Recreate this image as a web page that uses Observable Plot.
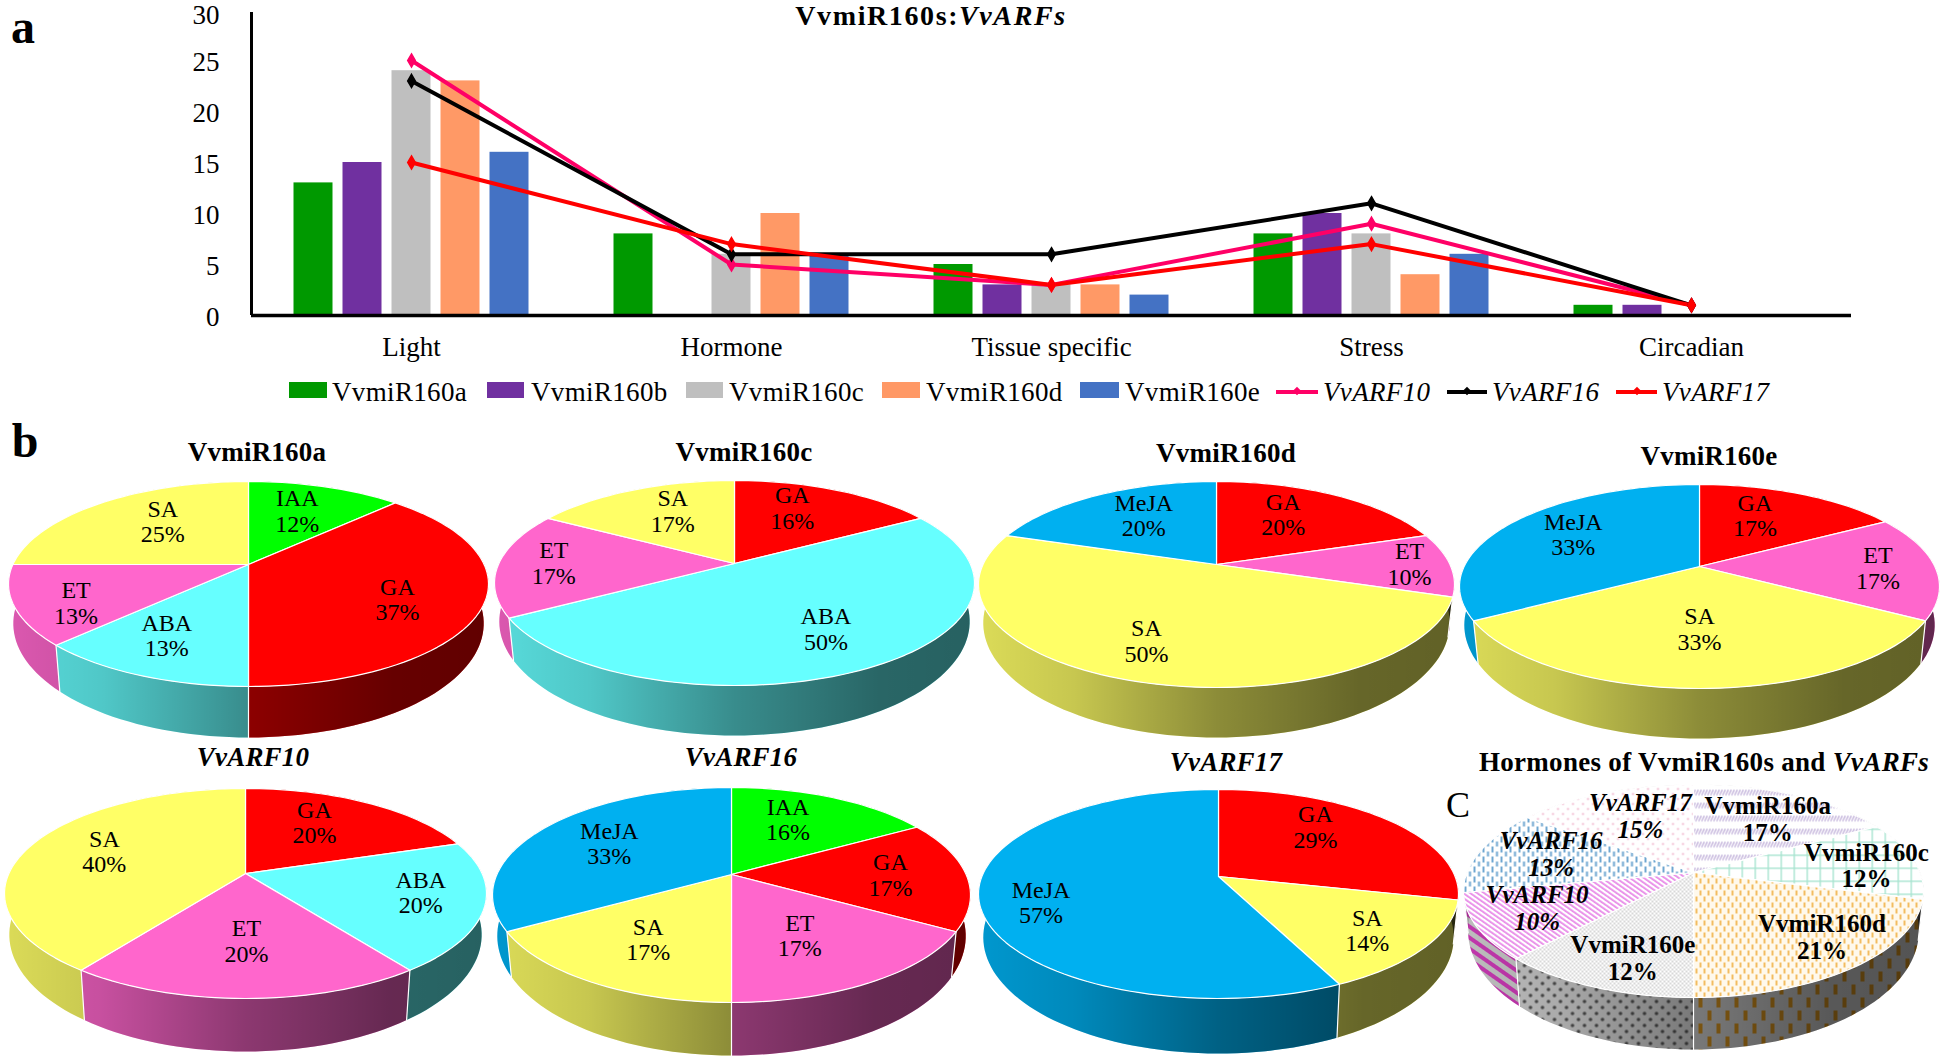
<!DOCTYPE html>
<html><head><meta charset="utf-8">
<script src="https://cdn.jsdelivr.net/npm/d3@7"></script>
<script src="https://cdn.jsdelivr.net/npm/@observablehq/plot@0.6"></script>
<style>
html,body{margin:0;padding:0;background:#fff}
#page{position:relative;width:1946px;height:1058px;overflow:hidden;font-family:"Liberation Serif",serif;color:#000}
#page svg{position:absolute;max-width:none;background:transparent;overflow:visible}
.t{position:absolute;transform:translate(-50%,-50%);white-space:nowrap;font-weight:bold;font-size:27px;line-height:1}
.lg{position:absolute;top:392px;transform:translateY(-50%);font-size:27px;white-space:nowrap;line-height:1;letter-spacing:.35px}
.sw{position:absolute;top:382px;height:16px}
.ln{position:absolute;top:390px;height:4px}
.dm{position:absolute;top:388px;width:6px;height:6px;transform:rotate(45deg)}
</style></head><body><div id="page"></div>
<script>
// ---------- panel a data ----------
const categories = ["Light","Hormone","Tissue specific","Stress","Circadian"];
const barSeries = ["VvmiR160a","VvmiR160b","VvmiR160c","VvmiR160d","VvmiR160e"];
const barColors = ["#009900","#7030a0","#bfbfbf","#ff9966","#4472c4"];
const VvmiR160a = [13,8,5,8,1];
const VvmiR160b = [15,0,3,10,1];
const VvmiR160c = [24,6,3,8,0];
const VvmiR160d = [23,10,3,4,0];
const VvmiR160e = [16,6,2,6,0];
const lineSeries = ["VvARF10","VvARF16","VvARF17"];
const lineColors = ["#ff0066","#000000","#ff0000"];
const VvARF10 = [25,5,3,9,1];
const VvARF16 = [23,6,6,11,1];
const VvARF17 = [15,7,3,7,1];
const yTicks = [0,5,10,15,20,25];
const yTopTick = [30];

// ---------- panel b / C data: slice names, slice sizes, printed percentages ----------
const hormoneColors = {GA:"#ff0000",IAA:"#00ff00",ABA:"#66ffff",ET:"#ff66cc",SA:"#ffff66",MeJA:"#00b0f0"};
const pieANames=["IAA","GA","ABA","ET","SA"],   pieAValues=[1,3,1,1,2],   pieAPercents=[12,37,13,13,25];
const pieCNames=["GA","ABA","ET","SA"],         pieCValues=[1,3,1,1],     pieCPercents=[16,50,17,17];
const pieDNames=["GA","ET","SA","MeJA"],        pieDValues=[2,1,5,2],     pieDPercents=[20,10,50,20];
const pieENames=["GA","ET","SA","MeJA"],        pieEValues=[1,1,2,2],     pieEPercents=[17,17,33,33];
const pie10Names=["GA","ABA","ET","SA"],        pie10Values=[1,1,1,2],    pie10Percents=[20,20,20,40];
const pie16Names=["IAA","GA","ET","SA","MeJA"], pie16Values=[1,1,1,1,2],  pie16Percents=[16,17,17,17,33];
const pie17Names=["GA","SA","MeJA"],            pie17Values=[2,1,4],      pie17Percents=[29,14,57];
const pieAllNames=["VvmiR160a","VvmiR160c","VvmiR160d","VvmiR160e","VvARF10","VvARF16","VvARF17"];
const pieAllValues=[17,12,21,12,10,13,15],      pieAllPercents=[17,12,21,12,10,13,15];

// ---------- layout: pie frames in page pixels; label radius along each slice's mid-angle, with a small nudge ----------
const frames = [
 {names:pieANames,values:pieAValues,pct:pieAPercents,ax:248,ay:564,top:481,bot:686,rx:240,wall:737,lab:[.65,.63,.72,.76,.59],
  nudge:[[-1,-3],[1,9],[-3,-9],[6,7],[1,-7]]},
 {names:pieCNames,values:pieCValues,pct:pieCPercents,ax:734,ay:563,top:480,bot:685,rx:240,wall:735,lab:[.68,.62,.72,.62],
  nudge:[[-11,-6],[4,2],[-11,-1],[1,-7]]},
 {names:pieDNames,values:pieDValues,pct:pieDPercents,ax:1216,ay:564,top:481,bot:687,rx:238,wall:737,lab:[.68,.72,.6,.68],
  nudge:[[-14,-3],[25,-1],[-17,7],[8,-2]]},
 {names:pieENames,values:pieEValues,pct:pieEPercents,ax:1699,ay:566,top:484,bot:688,rx:240,wall:738,lab:[.68,.72,.6,.68],
  nudge:[[-13,-2],[9,1],[0,-11],[0,-2]]},
 {names:pie10Names,values:pie10Values,pct:pie10Percents,ax:245,ay:873,top:788,bot:998,rx:241,wall:1051,lab:[.68,.75,.6,.65],
  nudge:[[-13,-3],[-4,-6],[1,-8],[-3,-3]]},
 {names:pie16Names,values:pie16Values,pct:pie16Percents,ax:731,ay:874,top:787,bot:1002,rx:239,wall:1055,lab:[.68,.72,.65,.65,.68],
  nudge:[[-12,-3],[-10,0],[-23,-9],[8,-5],[4,1]]},
 {names:pie17Names,values:pie17Values,pct:pie17Percents,ax:1218,ay:876,top:789,bot:998,rx:240,wall:1053,lab:[.68,.72,.72],
  nudge:[[-17,-11],[0,3],[-5,9]]},
 {names:pieAllNames,values:pieAllValues,pct:pieAllPercents,ax:1693,ay:872,top:784,bot:997,rx:230,wall:1049,lab:[.72,.8,.68,.62,.68,.72,.72],patterned:true,
  nudge:[[2,2],[-3,3],[19,0],[1,14],[-9,-2],[11,-3],[11,1]]}
];
const titles = [
 ["VvmiR160s:<i>VvARFs</i>",931,16,28,1.6],
 ["VvmiR160a",257,452,27,.2],["VvmiR160c",744,452,27,.2],["VvmiR160d",1226,453,27,.2],["VvmiR160e",1709,456,27,.2],
 ["<i>VvARF10</i>",253,757,27,.2],["<i>VvARF16</i>",741,757,27,.2],["<i>VvARF17</i>",1226,762,27,.2],
 ["Hormones of VvmiR160s and <i>VvARFs</i>",1704,762,27,.3]
];
const legendBars = [[289,38,332],[487,37,531],[686,37,729],[882,38,926],[1080,39,1125]];
const legendLines = [[1276,42,1323],[1447,40,1492],[1616,41,1662]];

const page = document.getElementById("page");
const FONT = '"Liberation Serif",serif';

// ---------- panel a ----------
const barRows = [VvmiR160a,VvmiR160b,VvmiR160c,VvmiR160d,VvmiR160e].flatMap((vals,s)=>vals.map((v,i)=>({i,s,v})));
const lineRows = [VvARF10,VvARF16,VvARF17].flatMap((vals,s)=>vals.map((v,i)=>({i,s,v})));
const barStep = 49/320, barW = 39/320;
const topChart = Plot.plot({
  width:1946,height:375,marginLeft:251,marginRight:95,marginTop:9,marginBottom:60,
  x:{domain:[-.5,4.5],axis:null},y:{domain:[0,30],axis:null},
  style:{fontFamily:FONT,background:"transparent",color:"#000",left:"0px",top:"0px"},
  marks:[
    Plot.rectY(barRows,{x1:d=>d.i+(d.s-2)*barStep-barW/2,x2:d=>d.i+(d.s-2)*barStep+barW/2,y1:0,y2:"v",fill:d=>barColors[d.s]}),
    Plot.ruleX([-.5],{y1:0,y2:29.7,stroke:"#000",strokeWidth:3}),
    Plot.ruleY([0],{stroke:"#000",strokeWidth:3.5}),
    Plot.line(lineRows,{x:"i",y:"v",z:"s",stroke:d=>lineColors[d.s],strokeWidth:4,strokeLinejoin:"round"}),
    Plot.dot(lineRows,{x:"i",y:"v",symbol:"diamond",r:4,fill:d=>lineColors[d.s],stroke:d=>lineColors[d.s]}),
    Plot.axisX({ticks:[0,1,2,3,4],tickFormat:i=>categories[i],tickSize:0,tickPadding:21,fontSize:27,anchor:"bottom",label:null}),
    Plot.axisY({ticks:yTicks,tickSize:0,tickPadding:32,fontSize:27,anchor:"left",label:null,dy:2}),
    Plot.text(yTopTick,{x:()=>-.5,y:d=>d,text:d=>String(d),dx:-32,dy:6,textAnchor:"end",fontSize:27})
  ],
  color:{type:"identity"}
});
page.appendChild(topChart);

// ---------- pies ----------
const STEP = Math.PI/90;
function arc(t1,t2,fn){const n=Math.max(1,Math.ceil((t2-t1)/STEP));return d3.range(n+1).map(k=>fn(t1+(t2-t1)*k/n));}

frames.forEach((f,idx)=>{
  const T=f.ay-f.top,B=f.bot-f.ay,c=(B-T)/(B+T),a=T*(1+c),R=f.rx*Math.sqrt(1-c*c);
  const sx=.98,sy=1.112,dy=f.wall-f.ay-sy*B;
  const P=(t,k=1)=>{const u=Math.sin(t),v=Math.cos(t),d=1+c*v;return {x:k*R*u/d,y:-k*a*v/d};};
  const Q=t=>{const p=P(t);return {x:sx*p.x,y:sy*p.y+dy};};
  const total=d3.sum(f.values);
  let acc=0;
  const slices=f.values.map((v,i)=>{const t1=acc/total*2*Math.PI;acc+=v;const t2=acc/total*2*Math.PI;return {i,t1,t2,pct:f.pct[i],name:f.names[i]};});
  const patId=n=>`pat${idx}-${n.replace(/\W/g,"")}`;
  const fillTop=d=>f.patterned?`url(#${patId(d.name)})`:hormoneColors[d.name];
  const fillWall=d=>f.patterned?`url(#${patId(d.name)}w)`:hormoneColors[d.name];

  // top faces
  const topRows=slices.flatMap(d=>{
    const pts=[{x:0,y:0},...arc(d.t1,d.t2,t=>P(t)),{x:0,y:0}];
    return pts.map(p=>({...p,id:d.i,fill:fillTop(d)}));
  });
  // walls, cut at the left and right extremes and painted far part first
  const cuts=[Math.PI/2,3*Math.PI/2];
  const pieces=slices.flatMap(d=>{
    const bounds=[d.t1,...cuts.filter(x=>x>d.t1&&x<d.t2),d.t2];
    return d3.pairs(bounds).map(([a1,a2])=>({...d,a1,a2,mid:Math.cos((a1+a2)/2)}));
  }).sort((p,q)=>q.mid-p.mid);
  const wallRows=pieces.flatMap((d,w)=>{
    const up=arc(d.a1,d.a2,t=>P(t));
    const dn=arc(d.a1,d.a2,t=>Q(t)).reverse();
    return [...up,...dn,up[0]].map(p=>({...p,id:w,fill:fillWall(d)}));
  });
  const sepRows=slices.filter(d=>Math.cos(d.t1)<0.02).flatMap(d=>[P(d.t1),Q(d.t1)].map(p=>({...p,id:d.i})));

  // labels
  const labRows=slices.map(d=>{
    const mid=(d.t1+d.t2)/2,p=P(mid,f.lab[d.i]),[nx,ny]=f.nudge[d.i];
    return {x:p.x+nx,y:p.y+ny,text:`${d.name}\n${d.pct}%`,ital:d.name.startsWith("VvARF")};
  });

  const pad=8,W=2*f.rx+2*pad,H=f.wall-f.top+2*pad;
  const defs=(index,{x})=>{
    const g=d3.create("svg:defs");
    const lg=g.append("linearGradient").attr("id",`shade${idx}`).attr("gradientUnits","userSpaceOnUse")
      .attr("x1",x(-f.rx)).attr("x2",x(f.rx)).attr("y1",0).attr("y2",0);
    [[0,.14],[.2,.22],[.5,.45],[.8,.6],[1,.62]].forEach(([o,a])=>lg.append("stop").attr("offset",o).attr("stop-color","#000").attr("stop-opacity",a));
    if(f.patterned){
      const pat=(id,w,h,bg,draw,rot)=>{
        const p=g.append("pattern").attr("id",id).attr("patternUnits","userSpaceOnUse").attr("width",w).attr("height",h);
        if(rot)p.attr("patternTransform",`rotate(${rot})`);
        p.append("rect").attr("width",w).attr("height",h).attr("fill",bg);
        draw(p);
      };
      const rect=(p,x,y,w,h,col)=>p.append("rect").attr("x",x).attr("y",y).attr("width",w).attr("height",h).attr("fill",col);
      const circ=(p,x,y,r,col)=>p.append("circle").attr("cx",x).attr("cy",y).attr("r",r).attr("fill",col);
      const g1="#dcdcdc";
      // VvmiR160a: rows of short purple hatching
      const hatch=(id,bg,col,k)=>pat(id,3*k,13*k,bg,p=>{p.append("path").attr("d",`M0,${6*k}L${3*k},0`).attr("stroke",col).attr("stroke-width",1.2*k).attr("fill","none");});
      hatch(patId("VvmiR160a"),"#fff","#b8a4d4",1);hatch(patId("VvmiR160a")+"w",g1,"#7a5aa0",1);
      // VvmiR160c: green lattice
      const lat=(id,bg,col)=>pat(id,13,13,bg,p=>{rect(p,0,0,13,1.4,col);rect(p,0,0,1.4,13,col);});
      lat(patId("VvmiR160c"),"#fff","#a8e4d0");lat(patId("VvmiR160c")+"w",g1,"#60a890");
      // VvmiR160d: staggered orange dashes
      const dash=(id,bg,col,w,h,dw,dh)=>pat(id,w,h,bg,p=>{rect(p,0,0,dw,dh,col);rect(p,w/2,h/2,dw,dh,col);});
      dash(patId("VvmiR160d"),"#fff9ec","#f2bc60",8,12,2,5);dash(patId("VvmiR160d")+"w",g1,"#e09a20",18,26,4,10);
      // VvmiR160e: fine grey dots
      const dots=(id,bg,col,w,r)=>pat(id,w,w,bg,p=>{circ(p,w/4,w/4,r,col);circ(p,3*w/4,3*w/4,r,col);});
      dots(patId("VvmiR160e"),"#fff","#a8a8a8",4,.8);dots(patId("VvmiR160e")+"w",g1,"#555",12,1.8);
      // VvARF10: magenta diagonal stripes
      const stripe=(id,bg,col,w,sw)=>pat(id,w,w,bg,p=>rect(p,0,0,sw,w,col),-55);
      stripe(patId("VvARF10"),"#fff","#e88ce8",4,1.8);stripe(patId("VvARF10")+"w",g1,"#e040c8",9,4);
      // VvARF16: blue dashes
      dash(patId("VvARF16"),"#fff","#6ea6d0",9,10,2,6);dash(patId("VvARF16")+"w",g1,"#3a7ab0",9,10,2,6);
      // VvARF17: pink dots
      dots(patId("VvARF17"),"#fff","#f0b4cc",10,1.1);dots(patId("VvARF17")+"w",g1,"#d080a0",10,1.1);
    }
    return g.node();
  };
  const textOpts={x:"x",y:"y",text:"text",fontSize:f.patterned?25:24,lineHeight:f.patterned?1.08:1.07,fill:"#000",
                  fontWeight:f.patterned?"bold":"normal",textAnchor:"middle"};
  const chart=Plot.plot({
    width:W,height:H,margin:0,
    x:{domain:[-f.rx-pad,f.rx+pad],axis:null},
    y:{domain:[f.wall-f.ay+pad,-(T+pad)],axis:null},
    style:{fontFamily:FONT,background:"transparent",color:"#000",left:(f.ax-f.rx-pad)+"px",top:(f.top-pad)+"px"},
    marks:[
      defs,
      Plot.line(wallRows,{x:"x",y:"y",z:"id",fill:{value:"fill",scale:null},stroke:null}),
      Plot.line(wallRows,{x:"x",y:"y",z:"id",fill:`url(#shade${idx})`,stroke:null}),
      Plot.line(sepRows,{x:"x",y:"y",z:"id",stroke:"#fff",strokeWidth:1.2}),
      Plot.line(topRows,{x:"x",y:"y",z:"id",fill:{value:"fill",scale:null},stroke:"#fff",strokeWidth:1.2}),
      Plot.text(labRows.filter(d=>!d.ital),textOpts),
      Plot.text(labRows.filter(d=>d.ital),{...textOpts,fontStyle:"italic"})
    ]
  });
  page.appendChild(chart);
});

// ---------- html text ----------
function addText(html,x,y,size,cls="t",extra=""){
  const e=document.createElement("div");e.className=cls;e.innerHTML=html;
  e.style.cssText=`left:${x}px;top:${y}px;font-size:${size}px;${extra}`;page.appendChild(e);
}
titles.forEach(([h,x,y,s,ls])=>addText(h,x,y,s,"t",`letter-spacing:${ls}px`));
addText("a",23,27,48);
addText("b",25,441,48);
addText("C",1458,805,36,"t","font-weight:normal");
barSeries.forEach((n,i)=>{
  const [x,w,tx]=legendBars[i];
  const b=document.createElement("div");b.className="sw";b.style.cssText=`left:${x}px;width:${w}px;background:${barColors[i]}`;page.appendChild(b);
  addText(n,tx,392,27,"lg");
});
lineSeries.forEach((n,i)=>{
  const [x,w,tx]=legendLines[i];
  const b=document.createElement("div");b.className="ln";b.style.cssText=`left:${x}px;width:${w}px;background:${lineColors[i]}`;page.appendChild(b);
  const m=document.createElement("div");m.className="dm";m.style.cssText=`left:${x+w/2-3}px;background:${lineColors[i]}`;page.appendChild(m);
  addText(`<i>${n}</i>`,tx,392,27,"lg");
});
</script></body></html>
